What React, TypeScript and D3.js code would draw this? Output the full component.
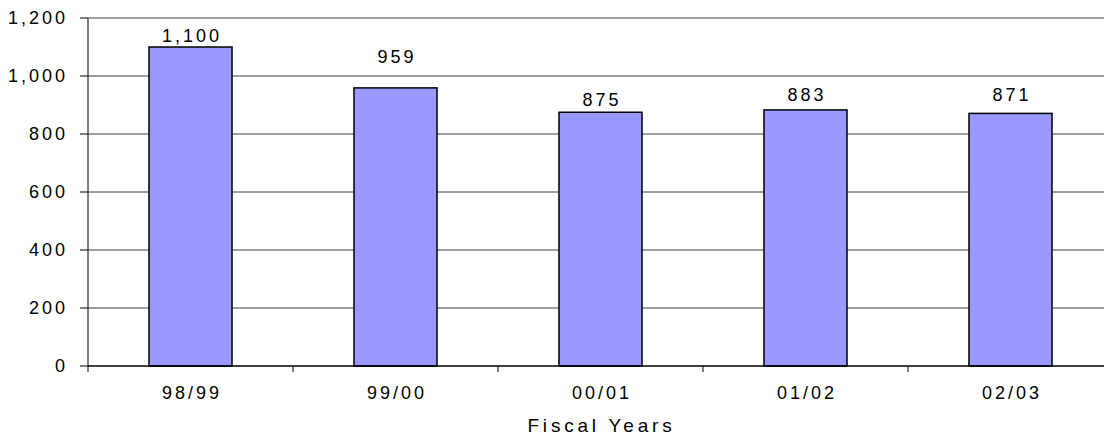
import React, { useEffect, useRef } from 'react';
import * as d3 from 'd3';

const years = ['98/99', '99/00', '00/01', '01/02', '02/03'];
const counts = [1100, 959, 875, 883, 871];
// extra pixel gap between bar top and its label, as seen in the original
const labelGap = [5, 25, 6, 9, 12];
const yTicks = [0, 200, 400, 600, 800, 1000, 1200];

const W = 1104;
const H = 436;
const margin = { left: 88, top: 18, right: -9, bottom: 70 };
const font = 'Arial, "Liberation Sans", sans-serif';

function BarChart() {
  const svgRef = useRef<SVGSVGElement>(null);

  useEffect(() => {
    document.body.style.margin = '0';
    const svg = d3.select(svgRef.current);
    svg.selectAll('*').remove();

    const x0 = margin.left;
    const x1 = W - margin.right;
    const yBottom = H - margin.bottom;

    const x = d3.scaleBand<string>().domain(years).range([x0, x1]).paddingInner(0.595).paddingOuter(0.2975);
    const y = d3.scaleLinear().domain([0, 1200]).range([yBottom, margin.top]);

    // gridlines
    svg
      .append('g')
      .selectAll('line')
      .data(yTicks.filter(t => t > 0))
      .join('line')
      .attr('x1', x0)
      .attr('x2', x1)
      .attr('y1', d => y(d))
      .attr('y2', d => y(d))
      .attr('stroke', '#404040')
      .attr('stroke-width', 1);

    // bars
    svg
      .append('g')
      .selectAll('rect')
      .data(counts)
      .join('rect')
      .attr('x', (d, i) => x(years[i])!)
      .attr('width', x.bandwidth())
      .attr('y', d => y(d))
      .attr('height', d => yBottom - y(d))
      .attr('fill', '#9999FF')
      .attr('stroke', '#000')
      .attr('stroke-width', 1.5);

    // value labels
    svg
      .append('g')
      .selectAll('text')
      .data(counts)
      .join('text')
      .attr('x', (d, i) => x(years[i])! + x.bandwidth() / 2 + 1.5)
      .attr('y', (d, i) => y(d) - labelGap[i])
      .attr('text-anchor', 'middle')
      .attr('font-family', font)
      .attr('font-size', 18)
      .attr('letter-spacing', 3)
      .attr('fill', '#000')
      .text(d => d3.format(',')(d));

    // y axis
    const yAxis = svg.append('g');
    yAxis
      .append('line')
      .attr('x1', x0)
      .attr('x2', x0)
      .attr('y1', margin.top)
      .attr('y2', yBottom)
      .attr('stroke', '#000');
    yAxis
      .selectAll('line.tick')
      .data(yTicks)
      .join('line')
      .attr('class', 'tick')
      .attr('x1', x0 - 8)
      .attr('x2', x0)
      .attr('y1', d => y(d))
      .attr('y2', d => y(d))
      .attr('stroke', '#000');
    yAxis
      .selectAll('text')
      .data(yTicks)
      .join('text')
      .attr('x', 65 + 3)
      .attr('y', d => y(d))
      .attr('dy', '0.36em')
      .attr('text-anchor', 'end')
      .attr('font-family', font)
      .attr('font-size', 18)
      .attr('letter-spacing', 3)
      .text(d => d3.format(',')(d));

    // x axis
    const xAxis = svg.append('g');
    xAxis
      .append('line')
      .attr('x1', x0)
      .attr('x2', x1)
      .attr('y1', yBottom)
      .attr('y2', yBottom)
      .attr('stroke', '#000')
      .attr('stroke-width', 1.5);
    const step = x.step();
    xAxis
      .selectAll('line.tick')
      .data(d3.range(years.length + 1))
      .join('line')
      .attr('class', 'tick')
      .attr('x1', i => x0 + i * step)
      .attr('x2', i => x0 + i * step)
      .attr('y1', yBottom)
      .attr('y2', yBottom + 6)
      .attr('stroke', '#000');
    xAxis
      .selectAll('text')
      .data(years)
      .join('text')
      .attr('x', d => x(d)! + x.bandwidth() / 2 + 1.5)
      .attr('y', yBottom + 33)
      .attr('text-anchor', 'middle')
      .attr('font-family', font)
      .attr('font-size', 18)
      .attr('letter-spacing', 3)
      .text(d => d);

    svg
      .append('text')
      .attr('x', (x0 + x1) / 2 + 1)
      .attr('y', yBottom + 66)
      .attr('text-anchor', 'middle')
      .attr('font-family', font)
      .attr('font-size', 19)
      .attr('letter-spacing', 3.8)
      .text('Fiscal Years');
  }, []);

  return (
    <div style={{ width: W, height: H, overflow: 'hidden', background: '#fff' }}>
      <svg ref={svgRef} width={W} height={H} style={{ display: 'block' }}></svg>
    </div>
  );
}

export default function App() {
  return <BarChart />;
}
